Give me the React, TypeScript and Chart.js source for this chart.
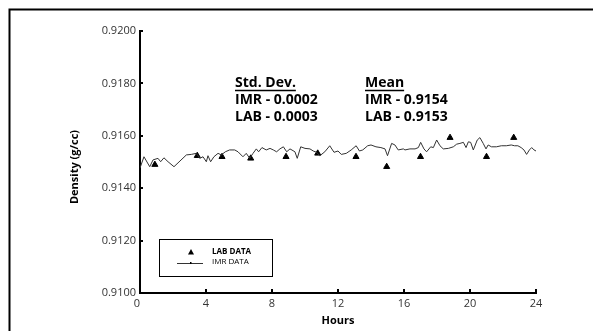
import React, { useEffect, useRef } from "react";
import { Chart, registerables } from "chart.js";

Chart.register(...registerables);

const imrHours = [
  0.0, 0.24, 0.59, 0.79, 1.09, 1.25, 1.45, 1.7, 2.06, 2.81, 3.11, 3.41, 3.62, 3.82, 4.02, 4.12, 4.28, 4.48,
  4.73, 4.93, 5.17, 5.43, 5.74, 5.94, 6.24, 6.44, 6.65, 6.85, 7.05, 7.19, 7.39, 7.65, 7.88, 8.08, 8.28, 8.48,
  8.69, 8.89, 9.09, 9.39, 9.53, 9.74, 10.0, 10.3, 10.5, 10.7, 10.9, 11.2, 11.5, 11.76, 12.0, 12.2, 12.5, 12.8,
  13.1, 13.3, 13.5, 13.8, 14.0, 14.3, 14.6, 14.85, 15.0, 15.25, 15.45, 15.65, 15.96, 16.06, 16.36, 16.67,
  16.87, 17.01, 17.21, 17.37, 17.62, 17.78, 17.98, 18.18, 18.38, 18.69, 18.99, 19.19, 19.39, 19.6, 19.76,
  19.9, 20.04, 20.2, 20.44, 20.6, 20.8, 20.97, 21.1, 21.3, 21.6, 21.9, 22.2, 22.5, 22.7, 22.9, 23.1, 23.27,
  23.43, 23.6, 23.74, 23.88, 24.0,
];
const imrDensity = [
  0.91477, 0.9152, 0.91482, 0.91508, 0.91514, 0.91501, 0.91516, 0.91501, 0.91482, 0.91527, 0.91529, 0.91533,
  0.91514, 0.9152, 0.91501, 0.91524, 0.91501, 0.9152, 0.91533, 0.91527, 0.91539, 0.91546, 0.91546, 0.91539,
  0.9152, 0.91533, 0.91514, 0.91533, 0.9155, 0.91539, 0.91555, 0.91546, 0.91552, 0.91546, 0.91539, 0.9155,
  0.91558, 0.91539, 0.9155, 0.91539, 0.91514, 0.91558, 0.91552, 0.9155, 0.91542, 0.91537, 0.91524, 0.91539,
  0.91562, 0.91537, 0.91542, 0.91529, 0.91533, 0.91546, 0.91562, 0.91542, 0.91546, 0.91562, 0.91565, 0.91558,
  0.91555, 0.9155, 0.91524, 0.91571, 0.91565, 0.91546, 0.9155, 0.91546, 0.9155, 0.9155, 0.91555, 0.91575,
  0.9155, 0.91539, 0.91558, 0.91555, 0.91584, 0.91562, 0.9155, 0.91552, 0.91558, 0.91568, 0.91571, 0.91575,
  0.91555, 0.91577, 0.91575, 0.91546, 0.91584, 0.91593, 0.91571, 0.9155, 0.91565, 0.91558, 0.91558, 0.91562,
  0.91562, 0.91565, 0.91562, 0.91562, 0.91555, 0.91546, 0.91529, 0.91546, 0.91555, 0.91546, 0.91542,
];
const labHours = [0.9, 3.47, 4.97, 6.71, 8.85, 10.77, 13.09, 14.95, 17.0, 18.79, 21.0, 22.65];
const labDensity = [0.9149, 0.91524, 0.9152, 0.91514, 0.9152, 0.91533, 0.9152, 0.91482, 0.9152, 0.91593, 0.9152, 0.91593];

const xTicks = [0, 4, 8, 12, 16, 20, 24];
const xTickLabels = ["0", "4", "8", "12", "16", "20", "24"];
const yTicks = [0.91, 0.912, 0.914, 0.916, 0.918, 0.92];
const statsStd = ["Std. Dev.", "IMR - 0.0002", "LAB - 0.0003"];
const statsMean = ["Mean", "IMR - 0.9154", "LAB - 0.9153"];
const legendLabels = ["LAB DATA", "IMR DATA"];
const xTitle = "Hours";
const yTitle = "Density (g/cc)";

const FONT = "'Open Sans', 'DejaVu Sans', sans-serif";

const decorPlugin = {
  id: "decor",
  afterDraw(chart: any) {
    const ctx = chart.ctx;
    const xs = chart.scales.x;
    const ys = chart.scales.y;
    const area = chart.chartArea;
    ctx.save();
    // outer frame
    ctx.strokeStyle = "#000";
    ctx.lineWidth = 2;
    ctx.strokeRect(9.5, 9.5, 700, 500);
    // inside ticks
    ctx.lineWidth = 2;
    yTicks.forEach((v) => {
      const py = Math.round(ys.getPixelForValue(v));
      ctx.beginPath();
      ctx.moveTo(area.left, py);
      ctx.lineTo(area.left + 3, py);
      ctx.stroke();
    });
    xTicks.forEach((v) => {
      const px = Math.round(xs.getPixelForValue(v));
      ctx.beginPath();
      ctx.moveTo(px, area.bottom);
      ctx.lineTo(px, area.bottom - 4);
      ctx.stroke();
    });
    // x tick labels
    ctx.fillStyle = "#333";
    ctx.font = `11px ${FONT}`;
    ctx.textAlign = "center";
    ctx.textBaseline = "top";
    xTicks.forEach((v, i) => {
      const px = Math.round(xs.getPixelForValue(v));
      ctx.fillText(xTickLabels[i], px - (i === 0 ? 3 : 0), area.bottom + 5);
    });
    // axis titles
    ctx.fillStyle = "#000";
    ctx.font = `bold 11px ${FONT}`;
    ctx.textAlign = "center";
    ctx.textBaseline = "middle";
    ctx.fillText(xTitle, (area.left + area.right) / 2, 321);
    ctx.save();
    ctx.translate(75, (area.top + area.bottom) / 2 + 5);
    ctx.rotate(-Math.PI / 2);
    ctx.fillText(yTitle, 0, 0);
    ctx.restore();
    // stats text
    ctx.font = `bold 14px ${FONT}`;
    ctx.textAlign = "left";
    const drawBlock = (lines: string[], x: number) => {
      lines.forEach((t, i) => {
        const y = 83 + i * 17;
        ctx.fillText(t, x, y);
        if (i === 0) {
          const w = ctx.measureText(t).width;
          ctx.lineWidth = 1.5;
          ctx.beginPath();
          ctx.moveTo(x, y + 7.5);
          ctx.lineTo(x + w, y + 7.5);
          ctx.stroke();
        }
      });
    };
    drawBlock(statsStd, 235);
    drawBlock(statsMean, 365);
    // legend box
    ctx.lineWidth = 1;
    ctx.strokeStyle = "#000";
    ctx.strokeRect(159.5, 239.5, 113, 37);
    ctx.fillStyle = "#000";
    ctx.beginPath();
    ctx.moveTo(191, 249);
    ctx.lineTo(194, 254.5);
    ctx.lineTo(188, 254.5);
    ctx.closePath();
    ctx.fill();
    ctx.strokeStyle = "#333";
    ctx.beginPath();
    ctx.moveTo(177, 263.5);
    ctx.lineTo(203, 263.5);
    ctx.stroke();
    ctx.fillRect(190, 262, 1.5, 2);
    ctx.fillStyle = "#000";
    ctx.font = `bold 8px ${FONT}`;
    ctx.fillText(legendLabels[0], 212, 251.5);
    ctx.font = `8px ${FONT}`;
    ctx.fillText(legendLabels[1], 212, 261.5);
    ctx.restore();
  },
};

export default function App() {
  const ref = useRef<HTMLCanvasElement | null>(null);
  useEffect(() => {
    if (!ref.current) return;
    const chart = new Chart(ref.current, {
      type: "scatter",
      data: {
        datasets: [
          {
            label: legendLabels[1],
            data: imrHours.map((h, i) => ({ x: h, y: imrDensity[i] })),
            showLine: true,
            borderColor: "#333",
            borderWidth: 1,
            pointRadius: 0,
            tension: 0,
          },
          {
            label: legendLabels[0],
            data: labHours.map((h, i) => ({ x: h, y: labDensity[i] })),
            showLine: false,
            pointStyle: "triangle",
            pointRadius: 3.5,
            backgroundColor: "#000",
            borderColor: "#000",
            borderWidth: 1,
          },
        ],
      },
      options: {
        responsive: false,
        animation: false,
        layout: { padding: { left: 0, right: 57, top: 31, bottom: 0 } },
        plugins: { legend: { display: false }, tooltip: { enabled: false } },
        scales: {
          x: {
            type: "linear",
            min: xTicks[0],
            max: xTicks[xTicks.length - 1],
            afterFit: (s: any) => {
              s.height = 38;
            },
            grid: { display: false, drawTicks: false },
            border: { display: true, color: "#000", width: 2 },
            ticks: { display: false, stepSize: 4 },
          },
          y: {
            type: "linear",
            min: yTicks[0],
            max: yTicks[yTicks.length - 1],
            afterFit: (s: any) => {
              s.width = 140;
            },
            grid: { display: false, drawTicks: false },
            border: { display: true, color: "#000", width: 2 },
            ticks: {
              stepSize: 0.002,
              color: "#333",
              font: { family: FONT, size: 11 },
              padding: 4,
              autoSkip: false,
              callback: (v: any) => Number(v).toFixed(4),
            },
          },
        },
      },
      plugins: [decorPlugin],
    } as any);
    return () => chart.destroy();
  }, []);
  return (
    <div style={{ position: "absolute", left: 0, top: 0, width: 593, height: 331, background: "#fff" }}>
      <canvas ref={ref} width={593} height={331} />
    </div>
  );
}
